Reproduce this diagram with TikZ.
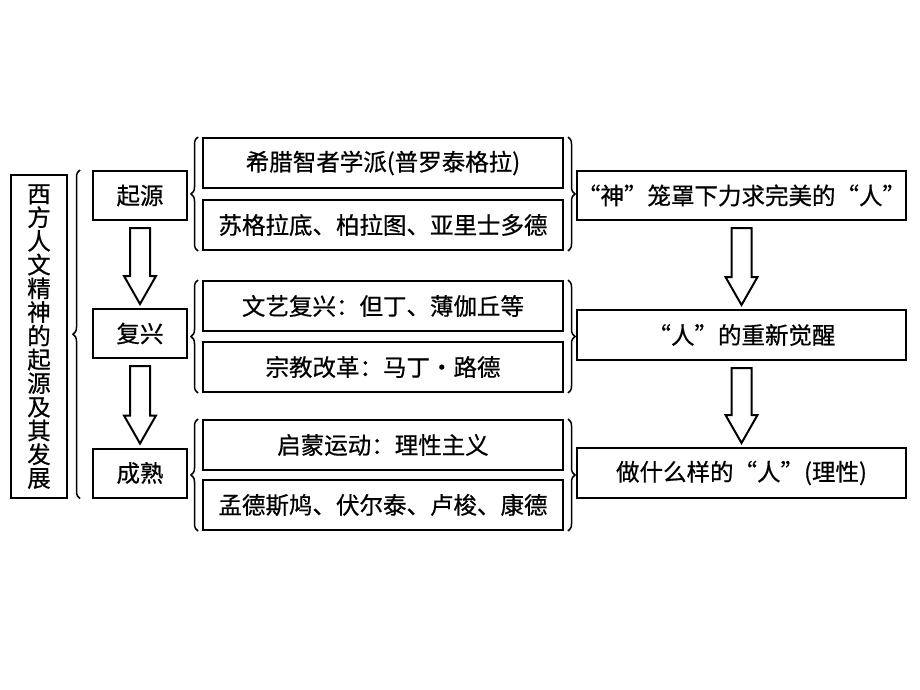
\documentclass[tikz,border=0pt]{standalone}
\usepackage{fontspec}
\setmainfont[FakeBold=0.6,AutoFakeBold=0.6]{Noto Sans CJK SC}
\usetikzlibrary{calc,decorations.pathreplacing}

\tikzset{
  box/.style={rectangle,draw=black,line width=2pt,minimum width=#1,minimum height=49pt,inner sep=0pt},
  item/.style={box=360pt,minimum height=50pt},
  hollow/.style={draw=black,line width=2pt,fill=white,line join=miter},
  bracel/.style={draw=black,line width=1.5pt,decorate,decoration={brace,amplitude=7pt}},
}
\newcommand{\hollowarrow}[2]{%
  \draw[hollow] ($(#1.south)+(-10,7)$) -- ($(#2.north)+(-10,-32)$) -- ($(#2.north)+(-16,-32)$)
    -- ($(#2.north)+(0,-4)$) -- ($(#2.north)+(16,-32)$) -- ($(#2.north)+(10,-32)$)
    -- ($(#1.south)+(10,7)$) -- cycle;}

\begin{document}
\begin{tikzpicture}[x=1pt,y=-1pt,font=\fontsize{23.5}{28}\selectfont\bfseries]
\useasboundingbox (0,0) rectangle (920,690);
% title
\node[box=56pt,minimum height=323pt,align=center,font=\fontsize{23.5}{23.7}\selectfont\bfseries] (title) at (39,336.5)
  {西\\方\\人\\文\\精\\神\\的\\起\\源\\及\\其\\发\\展};
% stages
\node[box=94pt] (qiyuan) at (140,195.5) {起源};
\node[box=94pt] (fuxing) at (140,333.5) {复兴};
\node[box=94pt] (chengshu) at (140,473) {成熟};
% events, two per stage
\node[item] (e1) at (383,163) {希腊智者学派(普罗泰格拉)};
\node[item] (e2) at (383,225) {苏格拉底、柏拉图、亚里士多德};
\node[item] (e3) at (383,306) {文艺复兴：但丁、薄伽丘等};
\node[item] (e4) at (383,367) {宗教改革：马丁·路德};
\node[item] (e5) at (383,445) {启蒙运动：理性主义};
\node[item] (e6) at (383,505) {孟德斯鸠、伏尔泰、卢梭、康德};
% ideas
\node[box=329pt] (r1) at (741.5,195.5) {“神”笼罩下力求完美的“人”};
\node[box=329pt,minimum height=50pt] (r2) at (741.5,335) {“人”的重新觉醒};
\node[box=329pt,minimum height=50pt] (r3) at (741.5,473) {做什么样的“人”(理性)};
% arrows
\hollowarrow{qiyuan}{fuxing}
\hollowarrow{fuxing}{chengshu}
\hollowarrow{r1}{r2}
\hollowarrow{r2}{r3}
% braces
\draw[bracel] ($(chengshu.south west)+(-12,0)$) -- ($(qiyuan.north west)+(-12,0)$);
\draw[bracel] ($(e2.south west)+(-4,0)$) -- ($(e1.north west)+(-4,0)$);
\draw[bracel] ($(e4.south west)+(-4,0)$) -- ($(e3.north west)+(-4,0)$);
\draw[bracel] ($(e6.south west)+(-4,0)$) -- ($(e5.north west)+(-4,0)$);
\draw[bracel] ($(e1.north east)+(4,0)$) -- ($(e2.south east)+(4,0)$);
\draw[bracel] ($(e3.north east)+(4,0)$) -- ($(e4.south east)+(4,0)$);
\draw[bracel] ($(e5.north east)+(4,0)$) -- ($(e6.south east)+(4,0)$);
\end{tikzpicture}
\end{document}
